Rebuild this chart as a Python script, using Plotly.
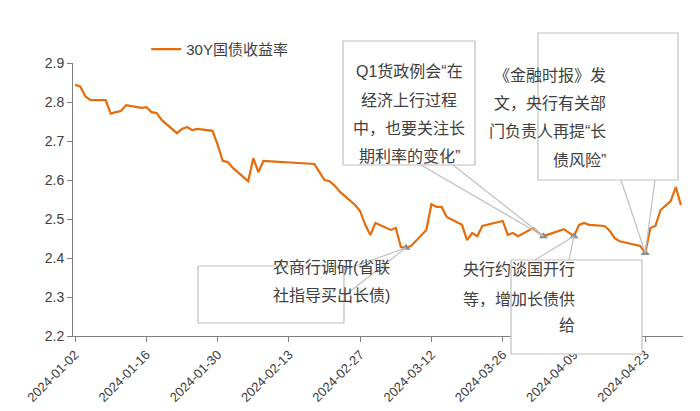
import pandas as pd
import plotly.graph_objects as go

dates = ['2024-01-02', '2024-01-03', '2024-01-04', '2024-01-05', '2024-01-08', '2024-01-09',
         '2024-01-10', '2024-01-11', '2024-01-12', '2024-01-15', '2024-01-16', '2024-01-17',
         '2024-01-18', '2024-01-19', '2024-01-22', '2024-01-23', '2024-01-24', '2024-01-25',
         '2024-01-26', '2024-01-29', '2024-01-30', '2024-01-31', '2024-02-01', '2024-02-02',
         '2024-02-04', '2024-02-05', '2024-02-06', '2024-02-07', '2024-02-08', '2024-02-18',
         '2024-02-19', '2024-02-20', '2024-02-21', '2024-02-22', '2024-02-23', '2024-02-26',
         '2024-02-27', '2024-02-28', '2024-02-29', '2024-03-01', '2024-03-04', '2024-03-05',
         '2024-03-06', '2024-03-07', '2024-03-08', '2024-03-11', '2024-03-12', '2024-03-13',
         '2024-03-14', '2024-03-15', '2024-03-18', '2024-03-19', '2024-03-20', '2024-03-21',
         '2024-03-22', '2024-03-25', '2024-03-26', '2024-03-27', '2024-03-28', '2024-03-29',
         '2024-04-01', '2024-04-02', '2024-04-03', '2024-04-07', '2024-04-08', '2024-04-09',
         '2024-04-10', '2024-04-11', '2024-04-12', '2024-04-15', '2024-04-16', '2024-04-17',
         '2024-04-18', '2024-04-19', '2024-04-22', '2024-04-23', '2024-04-24', '2024-04-25',
         '2024-04-26', '2024-04-28', '2024-04-29', '2024-04-30']
yields = [2.844, 2.840, 2.815, 2.805, 2.805, 2.770,
          2.774, 2.777, 2.792, 2.785, 2.787, 2.774,
          2.772, 2.754, 2.720, 2.731, 2.736, 2.728,
          2.731, 2.726, 2.690, 2.649, 2.646, 2.631,
          2.608, 2.597, 2.656, 2.620, 2.649, 2.641,
          2.620, 2.600, 2.597, 2.585, 2.570, 2.536,
          2.520, 2.485, 2.459, 2.490, 2.472, 2.477,
          2.428, 2.426, 2.431, 2.472, 2.538, 2.531,
          2.531, 2.505, 2.485, 2.446, 2.464, 2.456,
          2.482, 2.492, 2.495, 2.459, 2.464, 2.456,
          2.477, 2.465, 2.456, 2.474, 2.465, 2.456,
          2.485, 2.490, 2.485, 2.482, 2.470, 2.451,
          2.443, 2.440, 2.431, 2.413, 2.477, 2.482,
          2.523, 2.546, 2.582, 2.536]

tick_dates = ['2024-01-02', '2024-01-16', '2024-01-30', '2024-02-13', '2024-02-27',
              '2024-03-12', '2024-03-26', '2024-04-09', '2024-04-23']

event_dates = ['2024-03-07', '2024-04-03', '2024-04-09', '2024-04-23']
event_texts = [
    ['农商行调研(省联', '社指导买出长债)'],
    ['Q1货政例会“在', '经济上行过程', '中，也要关注长', '期利率的变化”'],
    ['央行约谈国开行', '等，增加长债供', '给'],
    ['《金融时报》发', '文，央行有关部', '门负责人再提“长', '债风险”'],
]

FONT = 'Liberation Sans, Noto Sans CJK SC'
W, H = 700, 411
L, R, T, B = 65, 25, 55, 83
x_range = [pd.Timestamp('2024-01-01 14:00'), pd.Timestamp('2024-04-30 10:00')]
y_range = [2.2, 2.9]

# boxes in pixels: (x0, y0, x1, y1), text line centres, connector start points
boxes = [
    ((190, 258, 336, 315), [270, 298], [(336, 262), (336, 288)]),
    ((335, 33, 467, 157), [53, 82, 110, 138], [(413, 157), (445, 157)]),
    ((503, 252, 634, 346), [272, 302, 328], [(527, 252), (561, 252)]),
    ((530, 25, 670, 172), [57, 85, 113, 142], [(613, 172), (647, 172)]),
]


def px_x(px):
    f = (px - L) / (W - L - R)
    return x_range[0] + (x_range[1] - x_range[0]) * f


def px_y(py):
    f = (H - B - py) / (H - T - B)
    return y_range[0] + (y_range[1] - y_range[0]) * f


def paper_x(px):
    return (px - L) / (W - L - R)


def paper_y(py):
    return (H - B - py) / (H - T - B)


ev_y = [yields[dates.index(d)] for d in event_dates]

fig = go.Figure()
fig.add_trace(go.Scatter(x=dates, y=yields, mode='lines', name='30Y国债收益率',
                         line=dict(color='#E46C0A', width=2.2)))

shapes = []
annotations = []
for (box, text_ys, starts), lines, ed, ey in zip(boxes, event_texts, event_dates, ev_y):
    for sx, sy in starts:
        shapes.append(dict(type='line', xref='x', yref='y', x0=px_x(sx), y0=px_y(sy),
                           x1=ed, y1=ey, line=dict(color='#BFBFBF', width=1.2)))
    x0, y0, x1, y1 = box
    shapes.append(dict(type='rect', xref='paper', yref='paper', x0=paper_x(x0), y0=paper_y(y0),
                       x1=paper_x(x1), y1=paper_y(y1), line=dict(color='#BFBFBF', width=1.2),
                       fillcolor='white', layer='above'))
    for t, ty in zip(lines, text_ys):
        annotations.append(dict(x=paper_x((x0 + x1) / 2), y=paper_y(ty), xref='paper', yref='paper',
                                text=t, showarrow=False, font=dict(size=16, color='#404040')))

fig.add_trace(go.Scatter(x=event_dates, y=ev_y, mode='markers', showlegend=False,
                         marker=dict(symbol='triangle-up', size=8, color='#8C8C8C')))

fig.update_layout(
    width=W, height=H, margin=dict(l=L, r=R, t=T, b=B, autoexpand=False),
    plot_bgcolor='white', paper_bgcolor='white',
    font=dict(family=FONT, size=13, color='#404040'),
    shapes=shapes, annotations=annotations,
    legend=dict(x=0.12, y=1.05, xanchor='left', yanchor='middle', font=dict(size=15),
                bgcolor='rgba(0,0,0,0)'),
    xaxis=dict(type='date', range=x_range, tickvals=tick_dates,
               tickformat='%Y-%m-%d', tickangle=-45, showgrid=False, showline=True,
               linecolor='#7F7F7F', ticks='outside', tickcolor='#7F7F7F', ticklen=5),
    yaxis=dict(range=y_range, dtick=0.1, tickformat='.1f', showgrid=False, showline=True,
               linecolor='#7F7F7F', ticks='outside', tickcolor='#7F7F7F', ticklen=5,
               zeroline=False, tickfont=dict(size=14)),
)

fig.write_html('out.html')
